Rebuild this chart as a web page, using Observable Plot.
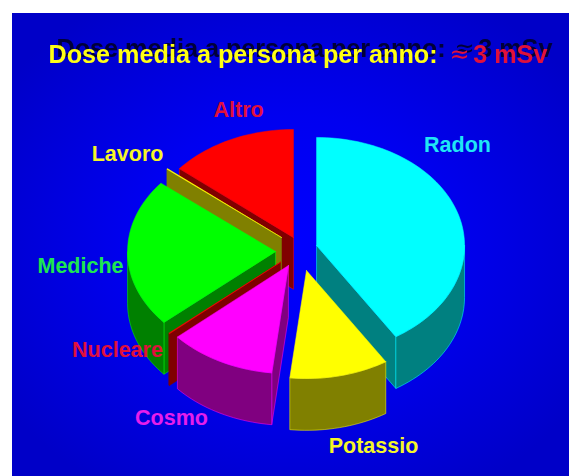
<!DOCTYPE html>
<html>
<head>
<meta charset="utf-8">
<script src="https://cdn.jsdelivr.net/npm/d3@7"></script>
<script src="https://cdn.jsdelivr.net/npm/@observablehq/plot@0.6"></script>
<style>
  html, body { margin: 0; padding: 0; background: #fff; }
  #chart { padding: 13px 0 0 12px; }
  #chart svg { display: block; }
  .dose-title { filter: drop-shadow(8px -6px 0 #000038); }
  .dose-value { filter: drop-shadow(5px -6px 0 #000038); }
</style>
</head>
<body>
<div id="chart"></div>
<script>
// Annual dose per person, share of each source (percent).
const sources = ["Radon", "Potassio", "Cosmo", "Nucleare", "Mediche", "Lavoro", "Altro"];
const shares = [41, 10.8, 11.7, 0.1, 22.3, 0.1, 14];

const topColors = ["#00ffff", "#ffff00", "#ff00ff", "#ff0000", "#00ff00", "#ffff00", "#ff0000"];
const wallColors = ["#008080", "#808000", "#800080", "#800000", "#008000", "#808000", "#800000"];
const labelColors = ["#1fe6f5", "#f5f528", "#e61eeb", "#e0103c", "#1ee650", "#f5f528", "#e0103c"];

// How far each wedge is pulled out of the pie, in units of the pie radius.
const shiftX = [0.122, 0.054, -0.068, -0.122, -0.155, -0.115, -0.034];
const shiftY = [0.056, -0.176, -0.13, -0.1, 0, 0.13, 0.13];

// Label anchors, also in pie radii.
const labelX = [1.074, 0.507, -0.858, -1.223, -1.473, -1.155, -0.405];
const labelY = [0.981, -1.806, -1.546, -0.917, -0.139, 0.898, 1.306];

const depth = 0.48; // extrusion of the pie, in vertical radii
const step = Math.PI / 90;

const arcs = d3.pie().sort(null)(shares);
const rows = [];

function addFace(id, i, points) {
  const isTop = id.endsWith("top");
  const fill = isTop ? topColors[i] : wallColors[i];
  const closed = [...points, points[0]];
  for (const [x, y] of closed) {
    rows.push({face: id, x, y, fill, edge: shares[i] < 1 ? fill : topColors[i]});
  }
}

function rim(i, a0, a1) {
  const n = Math.max(1, Math.ceil((a1 - a0) / step));
  return d3.range(n + 1).map((k) => {
    const a = a0 + (a1 - a0) * k / n;
    return [shiftX[i] + Math.sin(a), shiftY[i] + Math.cos(a)];
  });
}

function addSlice(i) {
  const {startAngle: a0, endAngle: a1} = arcs[i];
  const apex = [shiftX[i], shiftY[i]];
  const drop = ([x, y]) => [x, y - depth];
  const wall = (a) => {
    const edge = rim(i, a, a)[0];
    return [apex, edge, drop(edge), drop(apex)];
  };
  // Radial cuts are seen only when they turn towards the viewer.
  if (Math.sin(a0) < -1e-6) addFace(`${i}-start`, i, wall(a0));
  if (Math.sin(a1) > 1e-6) addFace(`${i}-end`, i, wall(a1));
  // The curved side shows along the front half of the ellipse.
  const f0 = Math.max(a0, Math.PI / 2), f1 = Math.min(a1, 3 * Math.PI / 2);
  if (f1 > f0) {
    const arc = rim(i, f0, f1);
    addFace(`${i}-side`, i, [...arc, ...arc.map(drop).reverse()]);
  }
  addFace(`${i}-top`, i, [apex, ...rim(i, a0, a1)]);
}

// Painted back to front.
[6, 5, 0, 4, 3, 2, 1].forEach(addSlice);

const labels = sources.map((name, i) => ({name, x: labelX[i], y: labelY[i], color: labelColors[i]}));
const font = "Liberation Sans, Arial, sans-serif";

const titleMain = "Dose media a persona per anno:";
const titleDose = "3 mSv";
const titleApprox = "≈";
const titleY = 1.824, titleMainX = -1.689, titleEndX = 1.682, approxX = 1.02;

const chart = Plot.plot({
  width: 557,
  height: 463,
  margin: 0,
  style: {background: "radial-gradient(ellipse 62% 62% at 50% 50%, #0000ff 0%, #0000f0 45%, #0000c8 100%)"},
  x: {domain: [-286 / 148, 271 / 148], range: [0, 557], axis: null},
  y: {domain: [-225 / 108, 238 / 108], range: [463, 0], axis: null},
  color: {type: "identity"},
  marks: [
    Plot.line(rows, {x: "x", y: "y", z: "face", fill: "fill", stroke: "edge", strokeWidth: 0.7, strokeLinejoin: "round", strokeOpacity: 0.75}),
    Plot.text(labels, {x: "x", y: "y", text: "name", fill: "color", fontSize: 21.5, fontWeight: "bold", fontFamily: font, textAnchor: "middle", lineAnchor: "middle"}),
    Plot.text([titleMain], {x: titleMainX, y: titleY, text: (d) => d, className: "dose-title", fill: "#ffff14", fontSize: 25.2, fontWeight: "bold", fontFamily: font, textAnchor: "start"}),
    Plot.text([titleApprox], {x: approxX, y: titleY, text: (d) => d, className: "dose-value", fill: "#e0103c", fontSize: 24, fontFamily: "DejaVu Sans, sans-serif", textAnchor: "start"}),
    Plot.text([titleDose], {x: titleEndX, y: titleY, text: (d) => d, className: "dose-value", fill: "#e0103c", fontSize: 25.2, fontWeight: "bold", fontFamily: font, textAnchor: "end"})
  ]
});

document.getElementById("chart").append(chart);
</script>
</body>
</html>
